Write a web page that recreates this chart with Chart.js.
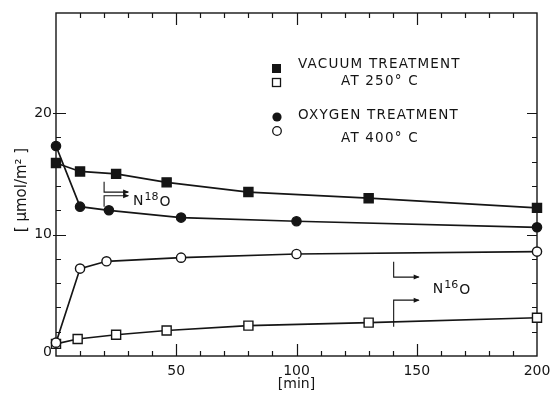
<!DOCTYPE html>
<html>
<head>
<meta charset="utf-8">
<script src="https://cdn.jsdelivr.net/npm/chart.js@4.4.1/dist/chart.umd.min.js"></script>
<style>
  body { margin: 0; background: #fff; }
  #wrap { width: 552px; height: 397px; }
</style>
</head>
<body>
<div id="wrap"><canvas id="exchangeChart" width="552" height="397"></canvas></div>
<script>
// amounts per surface area [umol/m2] against time [min]
const vacN18Time = [0, 10, 25, 46, 80, 130, 200];
const vacN18Value = [15.9, 15.2, 15.0, 14.3, 13.5, 13.0, 12.2];
const vacN16Time = [0, 9, 25, 46, 80, 130, 200];
const vacN16Value = [1.0, 1.4, 1.75, 2.1, 2.5, 2.75, 3.15];
const oxyN18Time = [0, 10, 22, 52, 100, 200];
const oxyN18Value = [17.3, 12.3, 12.0, 11.4, 11.1, 10.6];
const oxyN16Time = [0, 10, 21, 52, 100, 200];
const oxyN16Value = [1.1, 7.2, 7.8, 8.1, 8.4, 8.6];

const xTickLabels = [50, 100, 150, 200];
const yTickLabels = [0, 10, 20];
const legendLines = ["VACUUM TREATMENT", "AT 250° C", "OXYGEN TREATMENT", "AT 400° C"];

const INK = "#151515";
const FONT = "DejaVu Sans";

function toPoints(times, values) {
    return times.map((t, i) => ({ x: t, y: values[i] }));
}

function series(times, values, style, filled) {
    const square = style === "rect";
    return {
        data: toPoints(times, values),
        borderColor: INK,
        borderWidth: 1.7,
        tension: 0,
        clip: false,
        pointStyle: style,
        pointRadius: square ? 6.4 : 4.6,
        pointBorderWidth: 1.4,
        pointBorderColor: INK,
        pointBackgroundColor: filled ? INK : "#fff"
    };
}

// text with a raised mass number, e.g. N + 18 + O
function isotopeLabel(ctx, left, y, mass) {
    ctx.textAlign = "left";
    ctx.textBaseline = "middle";
    ctx.font = "14px " + FONT;
    ctx.fillText("N", left, y);
    let x = left + ctx.measureText("N").width + 1;
    ctx.font = "11px " + FONT;
    ctx.fillText(mass, x, y - 5);
    x += ctx.measureText(mass).width + 1;
    ctx.font = "14px " + FONT;
    ctx.fillText("O", x, y + 1);
}

// vertical stroke then a horizontal arrow
function bracketArrow(ctx, x0, yStart, yTurn, x1) {
    ctx.beginPath();
    ctx.moveTo(x0, yStart);
    ctx.lineTo(x0, yTurn);
    ctx.lineTo(x1, yTurn);
    ctx.stroke();
    ctx.beginPath();
    ctx.moveTo(x1 + 1, yTurn);
    ctx.lineTo(x1 - 5, yTurn - 2.5);
    ctx.lineTo(x1 - 5, yTurn + 2.5);
    ctx.closePath();
    ctx.fill();
}

const frame = {
    id: "frame",
    beforeDatasetsDraw(chart) {
        const { ctx, chartArea: a, scales: { x, y } } = chart;
        ctx.save();
        ctx.strokeStyle = INK;
        ctx.lineWidth = 1.4;
        ctx.strokeRect(a.left, a.top, a.right - a.left, a.bottom - a.top);

        // inward ticks, every 10 min and every 2 units
        ctx.lineWidth = 1.2;
        ctx.beginPath();
        for (let t = 10; t < 200; t += 10) {
            const px = Math.round(x.getPixelForValue(t)) + 0.5;
            const len = t % 50 === 0 ? 12 : 5;
            ctx.moveTo(px, a.bottom); ctx.lineTo(px, a.bottom - len);
            ctx.moveTo(px, a.top); ctx.lineTo(px, a.top + len);
        }
        for (let v = 2; v <= 20; v += 2) {
            const py = Math.round(y.getPixelForValue(v)) + 0.5;
            const len = v % 10 === 0 ? 10 : 5;
            ctx.moveTo(a.left - (v % 10 === 0 ? 3 : 0), py); ctx.lineTo(a.left + len, py);
            ctx.moveTo(a.right, py); ctx.lineTo(a.right - len, py);
        }
        ctx.stroke();
        ctx.restore();
    },
    afterDraw(chart) {
        const { ctx, chartArea: a, scales: { x, y } } = chart;
        ctx.save();
        ctx.fillStyle = INK;
        ctx.strokeStyle = INK;

        // tick labels
        ctx.font = "14px " + FONT;
        ctx.textAlign = "center";
        ctx.textBaseline = "middle";
        xTickLabels.forEach(t => ctx.fillText(String(t), x.getPixelForValue(t), a.bottom + 15));
        ctx.textAlign = "right";
        yTickLabels.forEach(v => {
            const py = y.getPixelForValue(v) - (v === 0 ? 4 : 0);
            ctx.fillText(String(v), a.left - 4, py);
        });

        // axis titles
        ctx.textAlign = "center";
        ctx.font = "14px " + FONT;
        ctx.fillText("[min]", x.getPixelForValue(100), a.bottom + 28);
        ctx.save();
        ctx.translate(22, 190);
        ctx.rotate(-Math.PI / 2);
        ctx.font = "15px " + FONT;
        ctx.fillText("[ \u03bcmol/m\u00b2 ]", 0, 0);
        ctx.restore();

        // legend
        ctx.lineWidth = 1.3;
        ctx.fillRect(272, 64, 9, 9);
        ctx.fillStyle = "#fff";
        ctx.fillRect(272, 78, 9, 9);
        ctx.strokeRect(272.5, 78.5, 8, 8);
        ctx.fillStyle = INK;
        ctx.beginPath(); ctx.arc(277, 117, 4.6, 0, Math.PI * 2); ctx.fill();
        ctx.beginPath(); ctx.arc(277, 131, 4.3, 0, Math.PI * 2);
        ctx.fillStyle = "#fff"; ctx.fill(); ctx.stroke();
        ctx.fillStyle = INK;

        ctx.font = "13.5px " + FONT;
        ctx.letterSpacing = "1.2px";
        ctx.textAlign = "left";
        ctx.fillText(legendLines[0], 298, 64);
        ctx.fillText(legendLines[1], 341, 81);
        ctx.fillText(legendLines[2], 298, 115);
        ctx.fillText(legendLines[3], 341, 138);
        ctx.letterSpacing = "0px";

        // isotope arrows, placed in data units
        ctx.lineWidth = 1.1;
        const px = t => x.getPixelForValue(t);
        const py = v => y.getPixelForValue(v);
        bracketArrow(ctx, px(20), py(14.36), py(13.5), px(30));
        bracketArrow(ctx, px(20), py(12.3), py(13.2), px(30));
        isotopeLabel(ctx, px(32), py(12.7), "18");

        bracketArrow(ctx, px(140.4), py(7.76), py(6.5), px(150.8));
        bracketArrow(ctx, px(140.4), py(2.4), py(4.6), px(150.8));
        isotopeLabel(ctx, px(156.7), py(5.45), "16");

        ctx.restore();
    }
};

const ctx = document.getElementById("exchangeChart").getContext("2d");
new Chart(ctx, {
    type: "line",
    data: {
        datasets: [
            series(oxyN16Time, oxyN16Value, "circle", false),
            series(vacN16Time, vacN16Value, "rect", false),
            series(oxyN18Time, oxyN18Value, "circle", true),
            series(vacN18Time, vacN18Value, "rect", true)
        ]
    },
    options: {
        responsive: false,
        animation: false,
        layout: { padding: { left: 56, top: 13, right: 15, bottom: 41 } },
        plugins: {
            legend: { display: false },
            tooltip: { enabled: false }
        },
        scales: {
            x: { type: "linear", min: 0, max: 200, display: false },
            y: { type: "linear", min: 0, max: 28.25, display: false }
        }
    },
    plugins: [frame]
});
</script>
</body>
</html>
